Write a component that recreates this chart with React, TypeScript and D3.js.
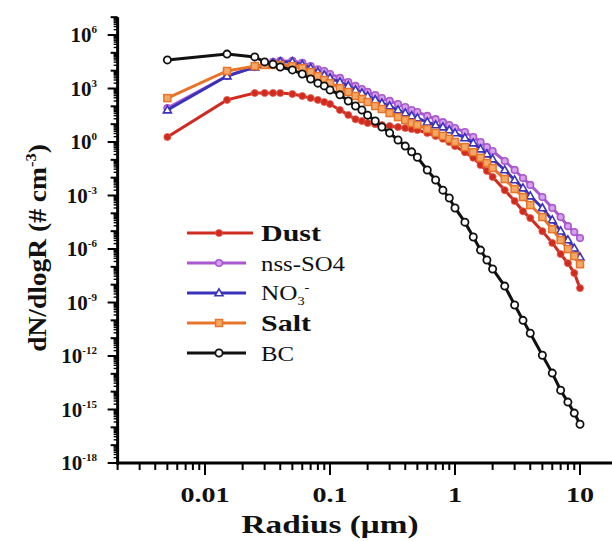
import React from "react";
import * as d3 from "d3";

// radius bins (µm)
const radius = [0.005, 0.015, 0.025, 0.03, 0.035, 0.04, 0.05, 0.06, 0.07, 0.08, 0.09, 0.1, 0.12, 0.14, 0.16, 0.18, 0.2, 0.23, 0.26, 0.3, 0.35, 0.4, 0.45, 0.5, 0.6, 0.7, 0.8, 0.9, 1, 1.2, 1.4, 1.6, 1.8, 2, 2.5, 3, 3.5, 4, 5, 6, 7, 8, 9, 10];

// dN/dlogR (# cm-3)
const dust = [1.9, 230, 560, 560, 560, 560, 490, 380, 290, 230, 175, 135, 62, 33, 19, 15, 11.6, 10, 9.0, 7.9, 6.9, 6.1, 5.3, 4.7, 3.2, 2.2, 1.5, 1.0, 0.59, 0.27, 0.13, 0.051, 0.024, 0.011, 2.0e-3, 4.9e-4, 1.3e-4, 5.4e-5, 1.0e-5, 2.2e-6, 5.2e-7, 1.6e-7, 4.5e-8, 6.4e-9];
const nssSO4 = [80, 5.0e3, 1.6e4, 2.4e4, 3.1e4, 3.5e4, 3.5e4, 2.7e4, 1.8e4, 1.2e4, 9.6e3, 6.5e3, 3.9e3, 2.3e3, 1.4e3, 940, 640, 430, 290, 200, 135, 92, 62, 48, 29, 19, 13, 9.0, 6.1, 3.6, 1.9, 1.0, 0.52, 0.31, 0.086, 0.027, 9.5e-3, 3.9e-3, 8.2e-4, 2.0e-4, 6.2e-5, 1.9e-5, 8.9e-6, 4.1e-6];
const no3 = [62, 5.0e3, 1.6e4, 2.1e4, 2.7e4, 3.1e4, 3.1e4, 2.1e4, 1.4e4, 8.4e3, 5.7e3, 3.9e3, 2.3e3, 1.4e3, 820, 560, 380, 230, 150, 104, 62, 42, 29, 22, 13, 9.0, 6.9, 4.7, 3.2, 1.7, 0.87, 0.4, 0.21, 0.11, 0.027, 7.4e-3, 2.6e-3, 9.3e-4, 2.0e-4, 4.2e-5, 1.0e-5, 3.2e-6, 1.1e-6, 3.5e-7];
const salt = [290, 9.6e3, 1.8e4, 2.1e4, 2.1e4, 2.1e4, 1.8e4, 1.4e4, 8.4e3, 5.0e3, 3.0e3, 2.0e3, 1.06e3, 640, 380, 260, 175, 104, 71, 42, 25, 17, 11.6, 9.0, 5.3, 3.2, 2.2, 1.5, 1.0, 0.52, 0.27, 0.13, 0.066, 0.035, 8.4e-3, 2.3e-3, 8.2e-4, 2.9e-4, 6.2e-5, 1.3e-5, 3.2e-6, 9.9e-7, 4.0e-7, 1.4e-7];
const bc = [4.0e4, 8.5e4, 5.9e4, 3.1e4, 2.3e4, 1.6e4, 1.1e4, 6.5e3, 3.4e3, 2.0e3, 1.4e3, 830, 440, 200, 105, 62, 32, 15, 6.9, 3.2, 1.3, 0.59, 0.28, 0.14, 0.027, 7.4e-3, 2.0e-3, 7.2e-4, 2.0e-4, 3.2e-5, 4.7e-6, 8.7e-7, 2.4e-7, 7.6e-8, 8.3e-9, 7.2e-10, 1.0e-10, 1.9e-11, 1.1e-12, 1.1e-13, 1.2e-14, 2.6e-15, 6.3e-16, 1.5e-16];

const xTickLabels = ["0.01", "0.1", "1", "10"];
const yTickExponents = [6, 3, 0, -3, -6, -9, -12, -15, -18];

const series = [
  { name: "Dust", values: dust, color: "#d12a1f", marker: "dot", bold: true },
  { name: "nss-SO4", values: nssSO4, color: "#a958d0", marker: "smalldot", bold: false },
  { name: "NO3", values: no3, color: "#3b32bc", marker: "triangle", bold: false },
  { name: "Salt", values: salt, color: "#e8742a", marker: "square", bold: true },
  { name: "BC", values: bc, color: "#111111", marker: "circle", bold: false },
];

const font = "'Liberation Serif', 'Times New Roman', serif";
const stretch = 1.28; // the figure's serif face is wider than Times

function Marker({ kind, color, x, y }: { kind: string; color: string; x: number; y: number }) {
  if (kind === "dot") return <circle cx={x} cy={y} r={3.5} fill={color} stroke="#e25a4a" strokeWidth={0.8} />;
  if (kind === "smalldot") return <circle cx={x} cy={y} r={3.3} fill="#d6a0ec" stroke={color} strokeWidth={1.6} />;
  if (kind === "triangle")
    return <path d={`M${x},${y - 4.2}L${x + 4},${y + 2.8}L${x - 4},${y + 2.8}Z`} fill="#fff" stroke={color} strokeWidth={1.6} />;
  if (kind === "square") return <rect x={x - 3.5} y={y - 3.5} width={7} height={7} fill="#f4a866" stroke={color} strokeWidth={1.5} />;
  return <circle cx={x} cy={y} r={3.6} fill="#fff" stroke={color} strokeWidth={1.8} />;
}

export default function App() {
  const width = 612;
  const height = 541;

  const x = d3.scaleLog().domain([0.01, 10]).range([205, 580]);
  const y = d3.scaleLog().domain([1e-18, 1e6]).range([463, 35]);

  const axisLeft = x(0.002);
  const axisBottom = y(1e-18);

  const line = d3
    .line<number>()
    .x((_, i) => x(radius[i]))
    .y((d) => y(d));

  // x ticks 0.002 .. 20
  const xTicks: { v: number; major: boolean }[] = [];
  for (let e = -3; e <= 1; e++) {
    for (let m = 1; m <= 9; m++) {
      const v = m * Math.pow(10, e);
      if (v < 0.002 - 1e-9 || v > 20 + 1e-9) continue;
      xTicks.push({ v, major: m === 1 });
    }
  }
  // y ticks 1e-18 .. 1e7
  const yTicks: { v: number; level: number }[] = [];
  for (let e = -18; e <= 7; e++) {
    const lab = yTickExponents.includes(e);
    yTicks.push({ v: Math.pow(10, e), level: lab ? 2 : 1 });
    if (e < 7) for (let m = 2; m <= 9; m++) yTicks.push({ v: m * Math.pow(10, e), level: 0 });
  }

  const legendY0 = 233;
  const legendGap = 30;

  return (
    <svg width={width} height={height} style={{ position: "absolute", left: 0, top: 0, background: "#fff" }}>
      {/* curves */}
      {series.map((s) => (
        <g key={s.name}>
          <path d={line(s.values) || ""} fill="none" stroke={s.color} strokeWidth={3} />
          {s.values.map((v, i) => (
            <Marker key={i} kind={s.marker} color={s.color} x={x(radius[i])} y={y(v)} />
          ))}
        </g>
      ))}

      {/* y axis */}
      <line x1={axisLeft} x2={axisLeft} y1={y(1e7)} y2={axisBottom + 1.5} stroke="#000" strokeWidth={3} />
      {yTicks.map((t, i) => (
        <line
          key={i}
          x1={axisLeft}
          x2={axisLeft - (t.level === 2 ? 10 : t.level === 1 ? 7 : 4)}
          y1={y(t.v)}
          y2={y(t.v)}
          stroke="#000"
          strokeWidth={t.level === 0 ? 1.4 : 2}
        />
      ))}
      {yTickExponents.map((e) => (
        <text key={e} x={97} y={y(Math.pow(10, e)) + 7} textAnchor="end" fontFamily={font} fontWeight="bold" fontSize={21} fill="#111">
          10
          <tspan dy={-9} fontSize={11}>
            {e}
          </tspan>
        </text>
      ))}

      {/* x axis */}
      <line x1={axisLeft - 1.5} x2={width + 5} y1={axisBottom} y2={axisBottom} stroke="#000" strokeWidth={3} />
      {xTicks.map((t, i) => (
        <line
          key={i}
          x1={x(t.v)}
          x2={x(t.v)}
          y1={axisBottom}
          y2={axisBottom + (t.major ? 12 : 7)}
          stroke="#000"
          strokeWidth={2}
        />
      ))}
      {xTickLabels.map((l) => (
        <text
          key={l}
          transform={`translate(${x(+l)},502) scale(${stretch},1)`}
          textAnchor="middle"
          fontFamily={font}
          fontWeight="bold"
          fontSize={22}
          fill="#111"
        >
          {l}
        </text>
      ))}

      {/* axis titles */}
      <text
        transform={`translate(330,533) scale(${stretch},1)`}
        textAnchor="middle"
        fontFamily={font}
        fontWeight="bold"
        fontSize={26}
        fill="#111"
      >
        Radius (μm)
      </text>
      <text
        transform={`translate(46,248) rotate(-90) scale(1.1,1)`}
        textAnchor="middle"
        fontFamily={font}
        fontWeight="bold"
        fontSize={25}
        fill="#111"
      >
        dN/dlogR (# cm
        <tspan dy={-10} fontSize={15}>
          -3
        </tspan>
        <tspan dy={10}>)</tspan>
      </text>

      {/* legend */}
      {series.map((s, i) => {
        const ly = legendY0 + i * legendGap;
        return (
          <g key={s.name}>
            <line x1={187} x2={i === 0 ? 253 : 246} y1={ly} y2={ly} stroke={s.color} strokeWidth={2.8} />
            <Marker kind={s.marker} color={s.color} x={219} y={ly} />
            {s.name === "NO3" ? (
              <text transform={`translate(261,${ly + 7}) scale(1.2,1)`} fontFamily={font} fontSize={21} fill="#111">
                NO
                <tspan dy={5} fontSize={12}>
                  3
                </tspan>
                <tspan dy={-13} fontSize={12}>
                  -
                </tspan>
              </text>
            ) : (
              <text
                transform={`translate(261,${ly + 8}) scale(${s.bold ? 1.25 : 1.18},1)`}
                fontFamily={font}
                fontWeight={s.bold ? "bold" : "normal"}
                fontSize={s.bold ? 24 : 21}
                fill="#111"
              >
                {s.name}
              </text>
            )}
          </g>
        );
      })}
    </svg>
  );
}
